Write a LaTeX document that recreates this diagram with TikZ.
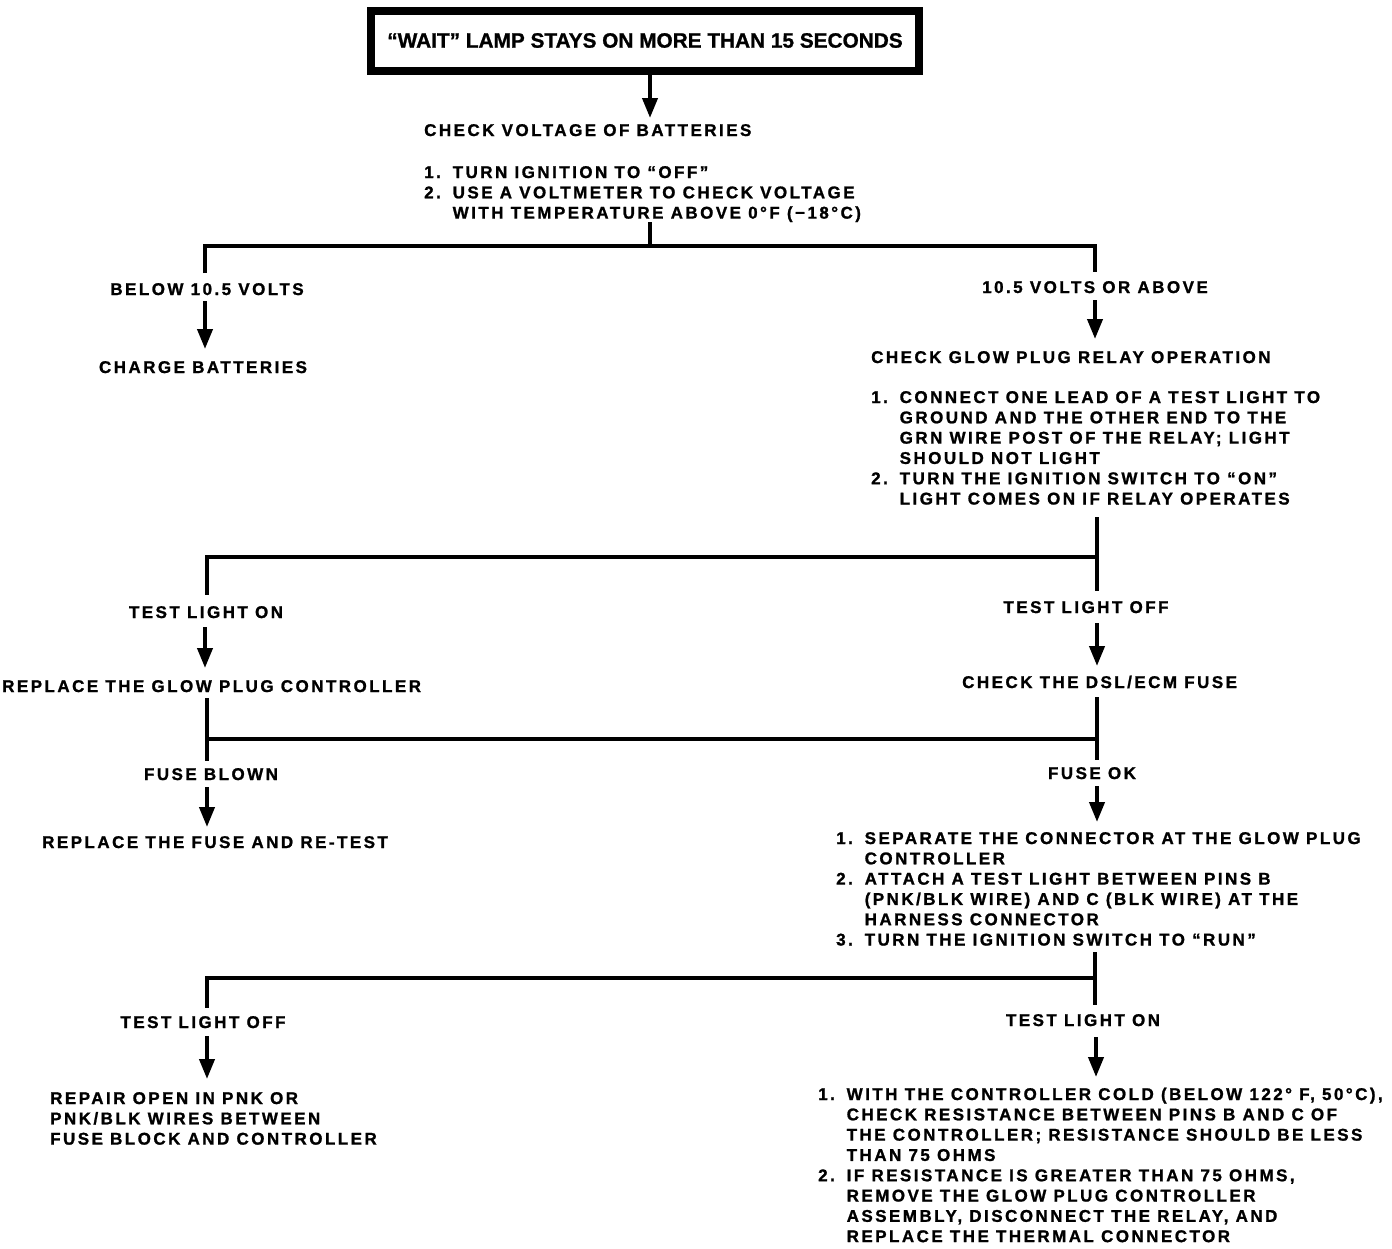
\documentclass[tikz,border=0pt]{standalone}
\usepackage{fontspec}
\setmainfont{Liberation Sans}
\newfontfamily\labfont{Liberation Sans}[LetterSpace=14.5,FakeBold=1.2]
\newfontfamily\titlefont{Liberation Sans}[FakeBold=1]
\usetikzlibrary{arrows.meta}
\newcommand\itm[1]{\makebox[28.5pt][l]{#1}}
\newcommand\ind{\hspace*{28.5pt}}
\tikzset{
  lbl/.style={font=\labfont\bfseries\fontsize{17}{20.3}\selectfont, inner sep=0pt, anchor=base},
  blk/.style={lbl, anchor=base west},
  ln/.style={line width=4pt, line join=miter},
  arr/.style={line width=4pt, -{Triangle[width=15pt,length=20pt]}},
  titlebox/.style={draw, line width=8pt, minimum width=548pt, minimum height=60pt, inner sep=0pt,
    font=\titlefont\bfseries\fontsize{20.8}{24}\selectfont},
}
\begin{document}
\begin{tikzpicture}[x=1pt,y=-1pt]
\useasboundingbox (0,0) rectangle (1392,1248);

% ---- text nodes ----
\node[titlebox] (title) at (645,40.5) {“WAIT” LAMP STAYS ON MORE THAN 15 SECONDS};
\node[blk] (chkbat) at (424,136) {CHECK VOLTAGE OF BATTERIES};
\node[blk] (batsteps) at (424,178) {\begin{tabular}[t]{@{}l@{}}
\itm{1.}TURN IGNITION TO “OFF”\\
\itm{2.}USE A VOLTMETER TO CHECK VOLTAGE\\
\ind WITH TEMPERATURE ABOVE 0°F (−18°C)\end{tabular}};
\node[lbl] (below) at (207,295) {BELOW 10.5 VOLTS};
\node[lbl] (charge) at (203,373) {CHARGE BATTERIES};
\node[lbl] (above) at (1095,293) {10.5 VOLTS OR ABOVE};
\node[blk] (chkrelay) at (871,363) {CHECK GLOW PLUG RELAY OPERATION};
\node[blk] (relaysteps) at (871,403) {\begin{tabular}[t]{@{}l@{}}
\itm{1.}CONNECT ONE LEAD OF A TEST LIGHT TO\\
\ind GROUND AND THE OTHER END TO THE\\
\ind GRN WIRE POST OF THE RELAY; LIGHT\\
\ind SHOULD NOT LIGHT\\
\itm{2.}TURN THE IGNITION SWITCH TO “ON”\\
\ind LIGHT COMES ON IF RELAY OPERATES\end{tabular}};
\node[lbl] (tlon1) at (206,618) {TEST LIGHT ON};
\node[blk] (replctl) at (2,692) {REPLACE THE GLOW PLUG CONTROLLER};
\node[lbl] (tloff1) at (1086,613) {TEST LIGHT OFF};
\node[blk] (chkfuse) at (962,688) {CHECK THE DSL/ECM FUSE};
\node[lbl] (blown) at (211,780) {FUSE BLOWN};
\node[blk] (replfuse) at (42,848) {REPLACE THE FUSE AND RE-TEST};
\node[lbl] (fuseok) at (1092,779) {FUSE OK};
\node[blk] (fusesteps) at (836,844) {\begin{tabular}[t]{@{}l@{}}
\itm{1.}SEPARATE THE CONNECTOR AT THE GLOW PLUG\\
\ind CONTROLLER\\
\itm{2.}ATTACH A TEST LIGHT BETWEEN PINS B\\
\ind (PNK/BLK WIRE) AND C (BLK WIRE) AT THE\\
\ind HARNESS CONNECTOR\\
\itm{3.}TURN THE IGNITION SWITCH TO “RUN”\end{tabular}};
\node[lbl] (tloff2) at (203,1028) {TEST LIGHT OFF};
\node[blk] (repair) at (50,1104) {\begin{tabular}[t]{@{}l@{}}
REPAIR OPEN IN PNK OR\\
PNK/BLK WIRES BETWEEN\\
FUSE BLOCK AND CONTROLLER\end{tabular}};
\node[lbl] (tlon2) at (1083,1026) {TEST LIGHT ON};
\node[blk] (resist) at (818,1100) {\begin{tabular}[t]{@{}l@{}}
\itm{1.}WITH THE CONTROLLER COLD (BELOW 122° F, 50°C),\\
\ind CHECK RESISTANCE BETWEEN PINS B AND C OF\\
\ind THE CONTROLLER; RESISTANCE SHOULD BE LESS\\
\ind THAN 75 OHMS\\
\itm{2.}IF RESISTANCE IS GREATER THAN 75 OHMS,\\
\ind REMOVE THE GLOW PLUG CONTROLLER\\
\ind ASSEMBLY, DISCONNECT THE RELAY, AND\\
\ind REPLACE THE THERMAL CONNECTOR\end{tabular}};

% ---- connector points ----
\coordinate (t1) at (650,75);    \coordinate (t2) at (650,118);
\coordinate (s1a) at (650,222);  \coordinate (s1b) at (650,246);
\coordinate (b1l) at (205,246);  \coordinate (b1r) at (1095,246);
\coordinate (b1le) at (205,273); \coordinate (b1re) at (1095,272);
\coordinate (aL1a) at (205,301); \coordinate (aL1b) at (205,349);
\coordinate (aR1a) at (1095,300);\coordinate (aR1b) at (1095,339);
\coordinate (s2a) at (1097,517); \coordinate (s2b) at (1097,591);
\coordinate (b2r) at (1097,557); \coordinate (b2l) at (207,557); \coordinate (b2le) at (207,595);
\coordinate (aL2a) at (205,627); \coordinate (aL2b) at (205,668);
\coordinate (aR2a) at (1097,623);\coordinate (aR2b) at (1097,666);
\coordinate (s3la) at (207,698); \coordinate (s3lb) at (207,761);
\coordinate (s3ra) at (1097,697);\coordinate (s3rb) at (1097,760);
\coordinate (b3l) at (207,739);  \coordinate (b3r) at (1097,739);
\coordinate (aL3a) at (207,787); \coordinate (aL3b) at (207,827);
\coordinate (aR3a) at (1097,786);\coordinate (aR3b) at (1097,822);
\coordinate (s4a) at (1095,952); \coordinate (s4b) at (1095,1005);
\coordinate (b4r) at (1095,978); \coordinate (b4l) at (207,978); \coordinate (b4le) at (207,1008);
\coordinate (aL4a) at (207,1036);\coordinate (aL4b) at (207,1079);
\coordinate (aR4a) at (1096,1037);\coordinate (aR4b) at (1096,1077);

% ---- connectors ----
\draw[arr] (t1) -- (t2);
\draw[ln] (s1a) -- (s1b);
\draw[ln] (b1le) -- (b1l) -- (b1r) -- (b1re);
\draw[arr] (aL1a) -- (aL1b);
\draw[arr] (aR1a) -- (aR1b);
\draw[ln] (s2a) -- (s2b);
\draw[ln] (b2r) -- (b2l) -- (b2le);
\draw[arr] (aL2a) -- (aL2b);
\draw[arr] (aR2a) -- (aR2b);
\draw[ln] (s3la) -- (s3lb);
\draw[ln] (s3ra) -- (s3rb);
\draw[ln] (b3l) -- (b3r);
\draw[arr] (aL3a) -- (aL3b);
\draw[arr] (aR3a) -- (aR3b);
\draw[ln] (s4a) -- (s4b);
\draw[ln] (b4r) -- (b4l) -- (b4le);
\draw[arr] (aL4a) -- (aL4b);
\draw[arr] (aR4a) -- (aR4b);
\end{tikzpicture}
\end{document}
